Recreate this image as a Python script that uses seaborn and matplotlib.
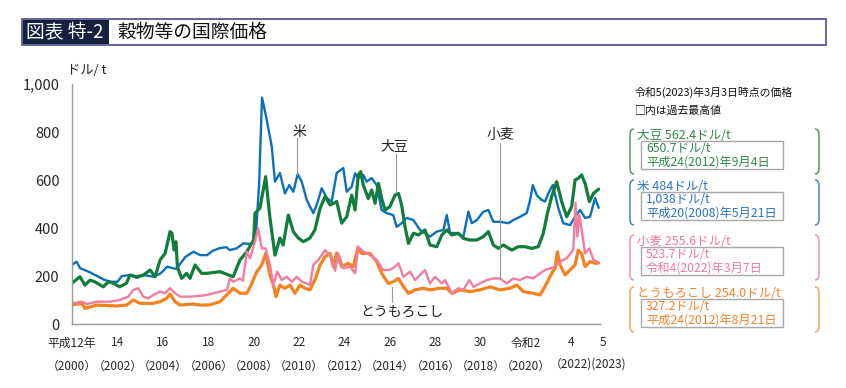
import matplotlib.pyplot as plt
import matplotlib.transforms as mtransforms
from matplotlib.path import Path
from matplotlib.patches import PathPatch, Rectangle
import seaborn as sns
import pandas as pd

# 米
rice_years = [2000.0, 2000.2, 2000.35, 2000.8, 2001.1, 2001.4, 2001.7, 2002.0, 2002.2, 2002.55,
              2002.85, 2003.15, 2003.6, 2003.9, 2004.2, 2004.45, 2004.6, 2005.0, 2005.35, 2005.65,
              2005.95, 2006.2, 2006.5, 2006.8, 2006.95, 2007.25, 2007.55, 2007.85, 2008.0, 2008.12,
              2008.24, 2008.37, 2008.55, 2008.8, 2008.94, 2009.16, 2009.38, 2009.57, 2009.75, 2009.94,
              2010.12, 2010.34, 2010.63, 2010.78, 2011.0, 2011.22, 2011.44, 2011.66, 2011.95, 2012.1,
              2012.32, 2012.47, 2012.61, 2012.83, 2012.98, 2013.2, 2013.42, 2013.64, 2013.86, 2014.15,
              2014.3, 2014.52, 2014.74, 2015.04, 2015.33, 2015.55, 2015.77, 2016.07, 2016.36, 2016.51,
              2016.65, 2016.95, 2017.24, 2017.46, 2017.61, 2017.83, 2018.12, 2018.34, 2018.56, 2018.85,
              2019.22, 2019.44, 2019.74, 2020.03, 2020.18, 2020.3, 2020.47, 2020.69, 2020.84, 2020.98,
              2021.18, 2021.42, 2021.64, 2021.94, 2022.16, 2022.38, 2022.6, 2022.82, 2023.04, 2023.2]
rice_prices = [246, 260, 233, 215, 200, 185, 176, 176, 200, 204,
               192, 204, 197, 211, 239, 232, 230, 280, 301, 287,
               287, 305, 316, 320, 308, 315, 336, 333, 340, 400,
               580, 943, 864, 739, 593, 629, 544, 579, 551, 625,
               593, 517, 462, 496, 566, 525, 510, 629, 650, 551,
               572, 628, 608, 621, 593, 608, 579, 475, 462, 454,
               405, 420, 442, 433, 392, 378, 364, 385, 392, 454,
               379, 379, 364, 468, 420, 433, 468, 475, 426, 426,
               420, 433, 447, 462, 517, 579, 537, 517, 510, 544,
               579, 483, 420, 412, 447, 475, 442, 447, 525, 484]

# 大豆
soy_years = [2000.0, 2000.35, 2000.57, 2000.8, 2001.0, 2001.38, 2001.6, 2001.82, 2002.1, 2002.4,
             2002.55, 2002.85, 2003.15, 2003.44, 2003.66, 2003.88, 2004.1, 2004.32, 2004.4, 2004.5,
             2004.58, 2004.64, 2004.83, 2005.05, 2005.2, 2005.42, 2005.71, 2005.93, 2006.52, 2007.1,
             2007.4, 2007.7, 2008.0, 2008.06, 2008.28, 2008.53, 2008.72, 2008.94, 2009.16, 2009.3,
             2009.53, 2009.75, 2009.97, 2010.19, 2010.48, 2010.7, 2010.93, 2011.15, 2011.37, 2011.66,
             2011.88, 2012.1, 2012.32, 2012.47, 2012.61, 2012.72, 2012.83, 2013.05, 2013.2, 2013.35,
             2013.5, 2013.64, 2013.79, 2014.0, 2014.23, 2014.38, 2014.52, 2014.67, 2014.82, 2015.04,
             2015.26, 2015.55, 2015.77, 2016.07, 2016.29, 2016.51, 2016.73, 2017.02, 2017.24, 2017.5,
             2017.83, 2018.12, 2018.34, 2018.56, 2018.78, 2019.0, 2019.37, 2019.66, 2019.96, 2020.25,
             2020.54, 2020.76, 2020.94, 2021.13, 2021.35, 2021.57, 2021.79, 2022.01, 2022.16, 2022.3,
             2022.45, 2022.6, 2022.79, 2022.97, 2023.2]
soy_prices = [170, 197, 162, 183, 176, 155, 176, 170, 155, 170,
              204, 197, 204, 225, 197, 267, 294, 385, 379, 308,
              343, 239, 190, 211, 190, 246, 211, 211, 218, 197,
              267, 301, 350, 461, 483, 614, 442, 287, 358, 329,
              454, 385, 358, 343, 358, 392, 483, 531, 496, 510,
              420, 447, 537, 475, 621, 635, 579, 523, 558, 503,
              586, 523, 475, 489, 537, 544, 496, 405, 336, 378,
              371, 392, 329, 322, 371, 392, 371, 378, 357, 350,
              350, 364, 385, 329, 315, 329, 308, 322, 322, 315,
              322, 378, 461, 531, 593, 510, 447, 489, 600, 607,
              621, 586, 510, 544, 562]

# 小麦
wheat_years = [2000.0, 2000.43, 2000.65, 2001.09, 2001.67, 2002.11, 2002.48, 2002.7, 2002.92, 2003.14,
               2003.36, 2003.58, 2003.88, 2004.1, 2004.32, 2004.54, 2004.76, 2005.2, 2005.64, 2005.93,
               2006.52, 2006.83, 2006.96, 2007.1, 2007.4, 2007.53, 2007.7, 2007.84, 2008.06, 2008.2,
               2008.36, 2008.53, 2008.72, 2008.87, 2009.04, 2009.24, 2009.46, 2009.68, 2009.9, 2010.12,
               2010.34, 2010.48, 2010.63, 2010.85, 2011.15, 2011.37, 2011.59, 2011.73, 2011.95, 2012.25,
               2012.47, 2012.61, 2012.83, 2013.13, 2013.42, 2013.71, 2014.0, 2014.23, 2014.38, 2014.6,
               2014.89, 2015.11, 2015.33, 2015.55, 2015.77, 2015.99, 2016.29, 2016.43, 2016.73, 2017.02,
               2017.24, 2017.5, 2017.68, 2017.97, 2018.27, 2018.56, 2018.85, 2019.15, 2019.44, 2019.74,
               2020.03, 2020.32, 2020.62, 2020.84, 2021.06, 2021.28, 2021.5, 2021.79, 2022.08, 2022.18,
               2022.26, 2022.35, 2022.45, 2022.6, 2022.79, 2022.97, 2023.2]
wheat_prices = [86, 93, 83, 93, 93, 100, 114, 142, 149, 114,
                107, 121, 135, 128, 149, 128, 114, 114, 117, 121,
                135, 142, 190, 176, 190, 180, 301, 274, 343, 399,
                315, 315, 246, 162, 218, 183, 197, 176, 197, 176,
                169, 162, 246, 267, 308, 287, 222, 294, 232, 239,
                211, 322, 301, 287, 267, 225, 225, 239, 253, 197,
                218, 183, 204, 225, 169, 197, 169, 183, 128, 149,
                142, 183, 155, 169, 183, 190, 190, 169, 190, 183,
                197, 190, 211, 225, 232, 239, 260, 274, 308, 505,
                364, 454, 392, 294, 315, 267, 256]

# とうもろこし
corn_years = [2000.0, 2000.43, 2000.57, 2001.09, 2001.97, 2002.41, 2002.7, 2003.0, 2003.58, 2003.88,
              2004.17, 2004.32, 2004.54, 2004.76, 2005.34, 2005.64, 2005.93, 2006.08, 2006.52, 2006.81,
              2007.1, 2007.4, 2007.7, 2007.92, 2008.14, 2008.36, 2008.53, 2008.72, 2008.87, 2008.99,
              2009.16, 2009.38, 2009.6, 2009.82, 2010.04, 2010.26, 2010.48, 2010.7, 2010.93, 2011.15,
              2011.37, 2011.51, 2011.66, 2011.88, 2012.17, 2012.39, 2012.6, 2012.76, 2013.13, 2013.42,
              2013.64, 2013.93, 2014.15, 2014.38, 2014.6, 2014.82, 2015.11, 2015.48, 2015.77, 2016.21,
              2016.51, 2016.73, 2017.09, 2017.53, 2017.97, 2018.41, 2018.85, 2019.3, 2019.59, 2019.88,
              2020.32, 2020.62, 2020.91, 2021.13, 2021.28, 2021.38, 2021.5, 2021.72, 2021.94, 2022.16,
              2022.3, 2022.45, 2022.6, 2022.82, 2023.04, 2023.2]
corn_prices = [79, 86, 65, 79, 75, 79, 100, 86, 86, 93,
               107, 125, 93, 79, 83, 79, 79, 80, 93, 121,
               149, 128, 128, 169, 218, 246, 294, 204, 162, 114,
               162, 149, 162, 128, 162, 149, 142, 183, 246, 281,
               294, 239, 296, 239, 253, 239, 320, 294, 294, 260,
               211, 169, 176, 190, 155, 128, 142, 149, 142, 149,
               149, 128, 142, 135, 142, 155, 142, 149, 162, 135,
               128, 121, 169, 211, 232, 301, 246, 204, 225, 246,
               308, 294, 239, 260, 253, 254]

crop_order = ['米', '大豆', 'とうもろこし', '小麦']
colors = {'米': '#0b6fba', '大豆': '#117d3a', '小麦': '#f27c9f', 'とうもろこし': '#f5821f'}
widths = {'米': 1.7, '大豆': 2.3, '小麦': 1.7, 'とうもろこし': 2.3}

tick_years = [2000, 2002, 2004, 2006, 2008, 2010, 2012, 2014, 2016, 2018, 2020, 2022, 2023.4]
era_labels = ['平成12年', '14', '16', '18', '20', '22', '24', '26', '28', '30', '令和2', '4', '5']
ad_labels = ['（2000）', '（2002）', '（2004）', '（2006）', '（2008）', '（2010）', '（2012）',
             '（2014）', '（2016）', '（2018）', '（2020）', None, None]
ad_label_last = '（2022)(2023)'

# 右側の注記
panel_heads = ['大豆 562.4ドル/t', '米 484ドル/t', '小麦 255.6ドル/t', 'とうもろこし 254.0ドル/t']
panel_highs = ['650.7ドル/t', '1,038ドル/t', '523.7ドル/t', '327.2ドル/t']
panel_dates = ['平成24(2012)年9月4日', '平成20(2008)年5月21日', '令和4(2022)年3月7日', '平成24(2012)年8月21日']
panel_text_colors = ['#2f8a45', '#2f73bd', '#f07898', '#f3832e']
panel_line_colors = ['#5a9467', '#4d82c2', '#f290ac', '#f5a35a']

frames = []
for name, yrs, vals in [('米', rice_years, rice_prices), ('大豆', soy_years, soy_prices),
                        ('とうもろこし', corn_years, corn_prices), ('小麦', wheat_years, wheat_prices)]:
    frames.append(pd.DataFrame({'year': yrs, 'price': vals, 'crop': name}))
df = pd.concat(frames, ignore_index=True)

sns.set_style('white')
plt.rcParams['font.family'] = ['Noto Sans CJK JP', 'DejaVu Sans']

W, H = 846, 388
fig = plt.figure(figsize=(W / 100, H / 100), dpi=100)

# 全体に重ねるピクセル座標の軸
ov = fig.add_axes([0, 0, 1, 1])
ov.set_xlim(0, W)
ov.set_ylim(H, 0)
ov.axis('off')
ov.patch.set_alpha(0)

ax = fig.add_axes([72 / W, (H - 324) / H, 533.5 / W, 240 / H])
ax.patch.set_alpha(0)

sns.lineplot(data=df, x='year', y='price', hue='crop', hue_order=crop_order,
             size='crop', sizes=widths, size_order=crop_order, palette=colors,
             sort=False, estimator=None, legend=False, ax=ax)

ax.set_xlim(2000, 2023.5)
ax.set_ylim(0, 1000)
ax.set_yticks(range(0, 1001, 200))
ax.set_yticklabels(['0', '200', '400', '600', '800', '1,000'], fontsize=10.5)
ax.set_xticks(tick_years)
ax.set_xticklabels([a if b is None else f'{a}\n{b}' for a, b in zip(era_labels, ad_labels)],
                   fontsize=8.5)
for lbl in ax.get_xticklabels():
    lbl.set_linespacing(2.0)
ax.tick_params(axis='x', length=0, pad=9)
ax.tick_params(axis='y', direction='in', length=4, width=0.8, color='#888888', pad=9)
ax.set_xlabel('')
ax.set_ylabel('')
for s in ['top', 'right']:
    ax.spines[s].set_visible(False)
for s in ['left', 'bottom']:
    ax.spines[s].set_color('#999999')
    ax.spines[s].set_linewidth(1.0)
ax.spines['bottom'].set_bounds(2000, 2023.25)

# 令和4・5年の西暦は詰めて一つにまとめる
blend = mtransforms.blended_transform_factory(ax.transData, ax.transAxes)
ax.text(2022.72, (324 - 364.5) / 240, ad_label_last, transform=blend, fontsize=8.5,
        ha='center', va='center', clip_on=False)

# 系列名の注記
lab_kw = dict(fontsize=10, ha='center', va='center', color='#222222')
line_kw = dict(color='#999999', lw=0.8)
ax.text(2010.04, 802, '米', **lab_kw)
ax.plot([2009.93, 2009.93], [775, 622], **line_kw)
ax.text(2014.18, 740, '大豆', **lab_kw)
ax.plot([2014.27, 2014.27], [708, 552], **line_kw)
ax.text(2018.85, 788, '小麦', **lab_kw)
ax.plot([2018.87, 2018.87], [756, 186], **line_kw)
ax.text(2014.52, 52, 'とうもろこし', **lab_kw)
ax.plot([2014.08, 2014.08], [90, 155], **line_kw)

ov.text(67, 71, 'ドル/ t', fontsize=9.5, ha='left', va='center', color='#222222')

# タイトル
ov.add_patch(Rectangle((22, 19), 804, 26, facecolor='white', edgecolor='#4a4a82', lw=1.2))
ov.add_patch(Rectangle((22.6, 19.6), 86.5, 24.8, facecolor='#13213f', edgecolor='none'))
ov.text(26, 32.5, '図表 特-2', fontsize=13.5, color='white', ha='left', va='center')
ov.text(117, 32.5, '穀物等の国際価格', fontsize=13.5, color='#111111', ha='left', va='center')

# 右側パネル
ov.text(635, 92.5, '令和5(2023)年3月3日時点の価格', fontsize=7.8, ha='left', va='center', color='#111111')
ov.text(635, 111, '□内は過去最高値', fontsize=7.8, ha='left', va='center', color='#111111')


def bracket(x, y0, y1, side, color):
    d = 4 if side == 'left' else -4
    verts = [(x + d, y0), (x, y0), (x, y0 + 6), (x, y1 - 6), (x, y1), (x + d, y1)]
    codes = [Path.MOVETO, Path.CURVE3, Path.CURVE3, Path.LINETO, Path.CURVE3, Path.CURVE3]
    ov.add_patch(PathPatch(Path(verts, codes), fill=False, edgecolor=color, lw=1.1))


group_tops = [129, 180, 235, 287]
for i in range(4):
    top = group_tops[i]
    bot = top + 45
    bracket(630, top, bot, 'left', panel_line_colors[i])
    bracket(819, top, bot, 'right', panel_line_colors[i])
    ov.text(637, top + 6.5, panel_heads[i], fontsize=9, ha='left', va='center',
            color=panel_text_colors[i])
    ov.add_patch(Rectangle((641, top + 12), 142, 28, facecolor='none',
                           edgecolor='#a8a8a8', lw=1.0))
    ov.text(646, top + 19.5, panel_highs[i], fontsize=8.8, ha='left', va='center',
            color=panel_text_colors[i])
    ov.text(646, top + 33, panel_dates[i], fontsize=8.8, ha='left', va='center',
            color=panel_text_colors[i])

fig.savefig('out.png', dpi=100)
